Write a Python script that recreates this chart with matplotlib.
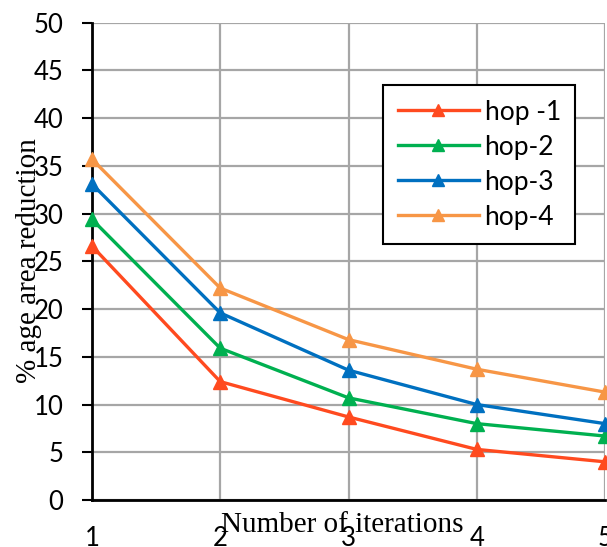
"""Line chart of area reduction vs number of iterations for four hop counts."""

import matplotlib.pyplot as plt

iterations = [1, 2, 3, 4, 5]
hop1 = [26.6, 12.4, 8.7, 5.3, 4.0]
hop2 = [29.4, 15.9, 10.7, 8.0, 6.7]
hop3 = [33.1, 19.6, 13.6, 10.0, 8.0]
hop4 = [35.7, 22.2, 16.8, 13.7, 11.3]
labels = ["hop -1", "hop-2", "hop-3", "hop-4"]
colors = ["#FF4A1F", "#00B050", "#0070C0", "#F79646"]
y_ticks = list(range(0, 51, 5))

W, H = 607, 547
fig = plt.figure(figsize=(W / 100, H / 100), dpi=100)
ax = fig.add_axes([92 / W, 1 - 500 / H, 513 / W, 477.3 / H])

for series, label, color in zip([hop1, hop2, hop3, hop4], labels, colors):
    ax.plot(iterations, series, color=color, lw=2.4, marker="^", ms=10,
            label=label, clip_on=False, zorder=3)

ax.set_xlim(1, 5)
ax.set_ylim(0, 50)
ax.set_xticks(iterations)
ax.set_yticks(y_ticks)
ax.grid(True, color="#A6A6A6", lw=1.6)
ax.set_axisbelow(True)

for side in ["top", "right"]:
    ax.spines[side].set_visible(False)
for side in ["left", "bottom"]:
    ax.spines[side].set_linewidth(2)
    ax.spines[side].set_color("black")

ax.tick_params(axis="y", direction="out", length=7.5, width=1.5, pad=13,
               labelsize=18.5)
ax.tick_params(axis="x", length=0, pad=19, labelsize=18.5)
for lab in ax.get_xticklabels() + ax.get_yticklabels():
    lab.set_family("Lato")

ax.set_xlabel("Number of iterations", family="Liberation Serif", fontsize=21)
ax.xaxis.set_label_coords(342 / W, 1 - 532 / H, transform=fig.transFigure)
ax.xaxis.label.set_va("baseline")
ax.set_ylabel("% age area reduction", family="Liberation Serif", fontsize=21)
ax.yaxis.set_label_coords(29 / W, 1 - 261 / H, transform=fig.transFigure)
ax.yaxis.label.set_va("center")

leg = ax.legend(loc="upper left", bbox_to_anchor=(383 / W, 1 - 85 / H),
                bbox_transform=fig.transFigure, fancybox=False,
                edgecolor="black", framealpha=1,
                prop={"family": "Lato", "size": 19},
                handlelength=3.1, handletextpad=0.2, labelspacing=0.38,
                borderpad=0.55, borderaxespad=0, markerscale=0.9)
leg.get_frame().set_linewidth(1.5)
leg.set_zorder(5)

fig.savefig("out.png", dpi=100)
